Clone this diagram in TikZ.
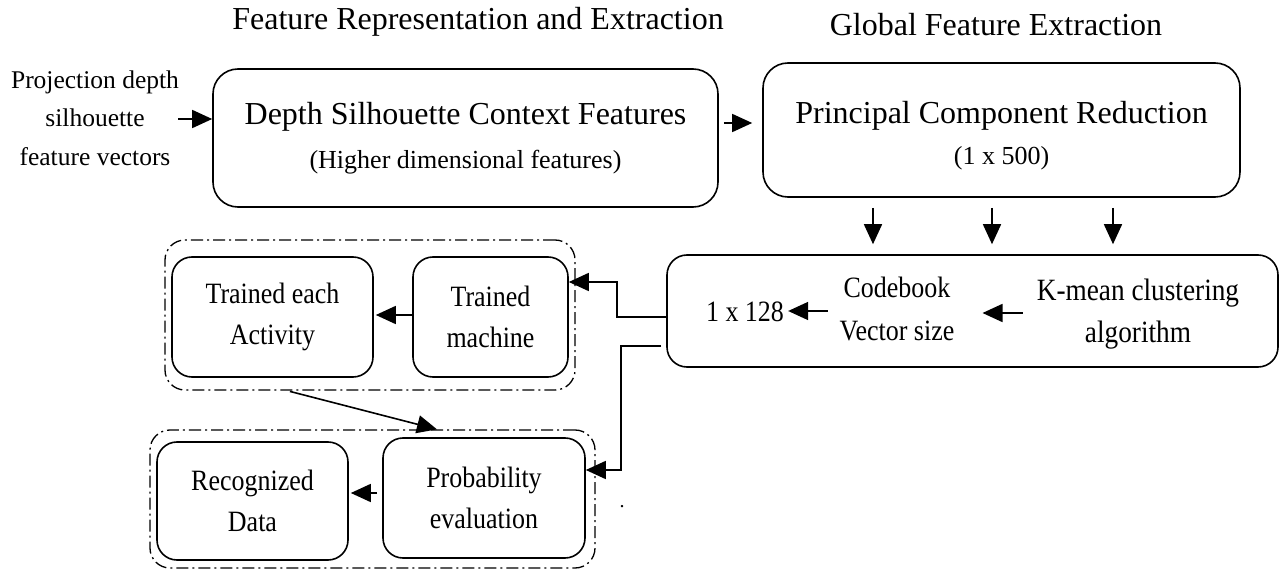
\documentclass[tikz,border=0pt]{standalone}
\usepackage{fontspec}
\setmainfont{Liberation Serif}
\newfontfamily\narrowserif[FakeStretch=0.88]{Liberation Serif}
\usetikzlibrary{arrows.meta,calc}
\begin{document}
\begin{tikzpicture}[x=1bp,y=-1bp,
  box/.style={draw, line width=1.6bp, rounded corners=20bp, align=center, inner sep=0pt},
  grp/.style={draw, line width=1.3bp, rounded corners=20bp, dash pattern=on 12bp off 4bp on 2bp off 4bp},
  lbl/.style={font=\narrowserif\fontsize{29.5bp}{41bp}\selectfont, align=center, inner sep=0pt},
  ttl/.style={font=\fontsize{32bp}{38bp}\selectfont, inner sep=0pt},
  arr/.style={line width=1.6bp, -{Triangle[length=20bp,width=18bp]}}
]
\useasboundingbox (0,0) rectangle (1280,574);

% titles
\node[ttl] (t1) at (478,22) {Feature Representation and Extraction};
\node[ttl] (t2) at (996,25) {Global Feature Extraction};

% input
\node[lbl, font=\fontsize{25.5bp}{38.5bp}\selectfont] (in) at (95,118) {Projection depth\\silhouette\\feature vectors};

% main boxes
\node[box, rounded corners=25bp, minimum width=505bp, minimum height=138bp,
      font=\fontsize{32bp}{46bp}\selectfont] (A) at (465.5,138)
  {Depth Silhouette Context Features\\[-2bp]{\fontsize{26bp}{40bp}\selectfont (Higher dimensional features)}};
\node[box, rounded corners=25bp, minimum width=477bp, minimum height=134bp] (B) at (1001.5,130) {};
\node[box, draw=none, font=\fontsize{32bp}{41bp}\selectfont] (Bt) at (1001.5,136)
  {Principal Component Reduction\\{\fontsize{26bp}{41bp}\selectfont (1 x 500)}};
\node[box, minimum width=611bp, minimum height=112bp] (C) at (972.5,311) {};

% texts inside C
\node[lbl] (n128) at (745,312) {1 x 128};
\node[lbl, font=\narrowserif\fontsize{29.5bp}{43bp}\selectfont] (cb) at (897,309) {Codebook\\Vector size};
\node[lbl, font=\narrowserif\fontsize{31bp}{42bp}\selectfont] (km) at (1138,314) {K-mean clustering\\algorithm};

% lower boxes
\node[box, lbl, draw, line width=1.6bp, rounded corners=20bp, minimum width=201bp, minimum height=120bp] (TE) at (272.5,317) {Trained each\\Activity};
\node[box, lbl, draw, line width=1.6bp, rounded corners=20bp, minimum width=155bp, minimum height=120bp] (TM) at (490.5,317) {Trained\\machine};
\node[box, lbl, draw, line width=1.6bp, rounded corners=20bp, minimum width=191bp, minimum height=118bp] (RD) at (252.5,501) {Recognized\\Data};
\node[box, lbl, draw, line width=1.6bp, rounded corners=20bp, minimum width=202bp, minimum height=120bp] (PE) at (484,498) {Probability\\evaluation};

% groups
\node[grp, minimum width=410bp, minimum height=150bp, inner sep=0pt] (G1) at (370,315) {};
\node[grp, minimum width=445bp, minimum height=138bp, inner sep=0pt] (G2) at (372.5,499) {};

% stray dot
\node[font=\fontsize{20bp}{20bp}\selectfont, inner sep=0pt] (dot) at (622,507) {.};

% helper coordinates
\coordinate (d1) at (873,0);
\coordinate (d2) at (992,0);
\coordinate (d3) at (1113,0);
\coordinate (e1) at (617,282);
\coordinate (e2) at (621,470);
\coordinate (s1) at (287,0);
\coordinate (s2) at (437,0);
\coordinate (inA) at (178,119);

% connectors
\draw[arr] (inA) -- (A.west |- inA);
\draw[arr, shorten <=5bp, shorten >=10bp] (A.east |- 0,123) -- (B.west |- 0,123);
\draw[arr, shorten <=10bp, shorten >=10bp] (B.south -| d1) -- (C.north -| d1);
\draw[arr, shorten <=10bp, shorten >=10bp] (B.south -| d2) -- (C.north -| d2);
\draw[arr, shorten <=10bp, shorten >=10bp] (B.south -| d3) -- (C.north -| d3);
\draw[arr, shorten <=12bp, shorten >=4bp] (cb.west |- 0,311) -- (n128.east |- 0,311);
\draw[arr, shorten <=14bp, shorten >=28bp] (km.west |- 0,313) -- (cb.east |- 0,313);
\draw[arr] ([yshift=-6bp]C.west) -| (e1) -- (TM.east |- e1);
\draw[arr] ([yshift=-35bp,xshift=-5bp]C.west) -| (e2) -- (PE.east |- e2);
\draw[arr, shorten >=2bp] (TM.west |- 0,315) -- (TE.east |- 0,315);
\draw[arr, shorten <=5bp, shorten >=2bp] (PE.west |- 0,493) -- (RD.east |- 0,493);
\draw[arr, shorten <=3bp] (G1.south -| s1) -- (G2.north -| s2);
\end{tikzpicture}
\end{document}
